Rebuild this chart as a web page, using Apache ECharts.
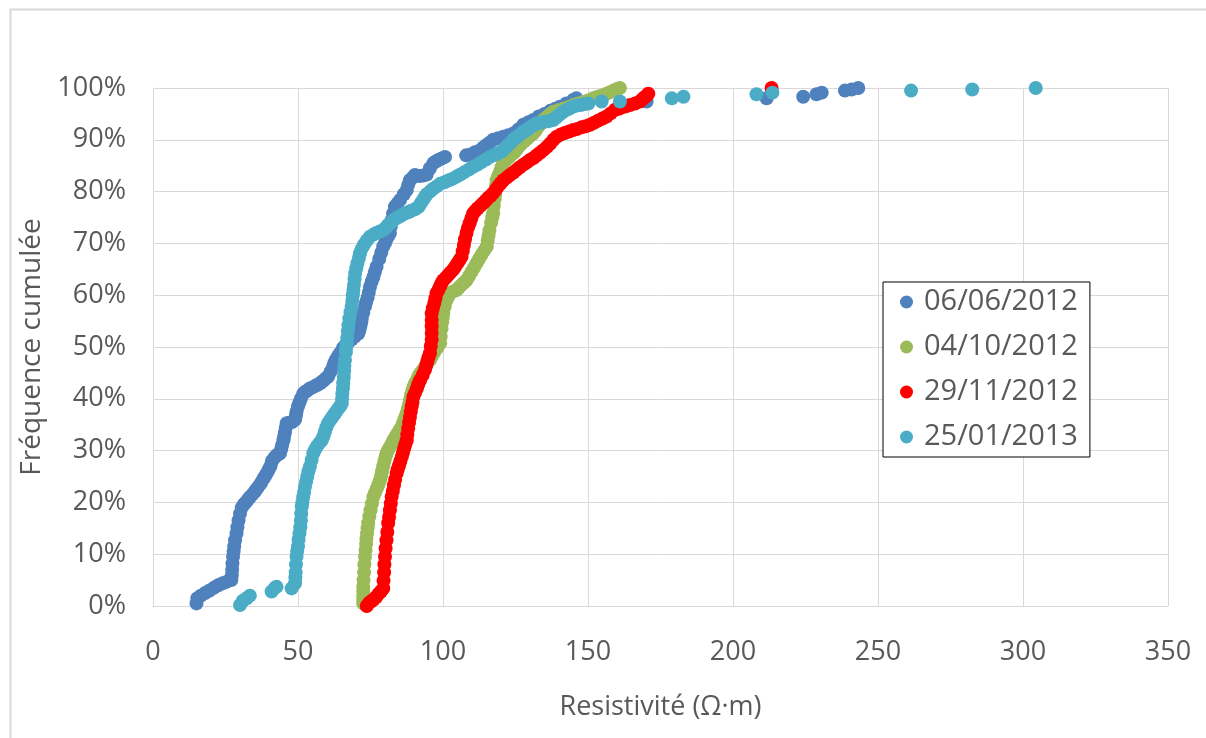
<!DOCTYPE html>
<html>
<head>
<meta charset="utf-8">
<script src="https://cdn.jsdelivr.net/npm/echarts@6/dist/echarts.min.js"></script>
<style>
html,body{margin:0;padding:0;background:#fff;}
#chart{width:1206px;height:738px;}
</style>
</head>
<body>
<div id="chart"></div>
<script>
// Series names (legend)
const seriesNames = ['06/06/2012', '04/10/2012', '29/11/2012', '25/01/2013'];
const seriesColors = ['#4F81BD', '#9BBB59', '#FF0000', '#4BACC6'];

// [resistivity (Ω·m), cumulative frequency (%)]
const s0606_2012 = [
  [15,0.5],[15.3,1.5],[16.5,2],[18,2.5],[19.5,3],[21,3.5],[22.5,4],[24,4.4],[25.5,4.7],[27,5],
  [27.2,6],[27.3,7],[27.4,8.2],[27.6,9.5],[27.8,10.5],[28,11.5],[28.3,12.7],[28.8,14],[29.1,15.2],[29.5,16.5],
  [30,17.8],[30.6,19],[31.3,19.6],[32,20],[32.7,20.5],[33.4,21],[34.2,21.5],[35,22],[35.6,22.5],[36.3,23],
  [37.2,23.7],[38,24.5],[38.6,25],[39.2,25.6],[39.9,26.3],[40.5,27],[41,28],[41.8,28.6],[42.5,29],[43.2,29.3],
  [43.8,29.5],[44.2,30.3],[44.5,31],[45,32],[45.2,32.7],[45.5,33.5],[45.8,34.4],[46.1,35.3],[47,35.4],[48,35.5],
  [49,36],[49.3,36.8],[49.5,37.5],[50,38.5],[50.5,39.3],[51,40],[51.8,41],[52.4,41.3],[53,41.5],[54.1,42],
  [55,42.2],[56,42.5],[56.8,42.7],[57.6,43],[58.3,43.3],[59,43.6],[59.7,44],[60.4,44.3],[61.3,45.3],[62.1,46.2],
  [62.5,46.9],[63,47.5],[63.8,48.2],[64.5,48.8],[65.5,49.8],[66.2,50.2],[66.8,50.7],[67.6,51.1],[68.5,51.5],[69.6,52],
  [70.8,52.6],[71.2,53.3],[71.5,54],[71.8,54.8],[72,55.5],[72.5,56.6],[73.1,57.8],[73.5,58.7],[74,59.5],[74.4,60.5],
  [74.8,61.6],[75.4,62.6],[76,63.5],[76.5,64.5],[77.1,65.5],[78,67],[78.7,68.2],[79.4,69.4],[80,70.1],[80.5,70.8],
  [81.1,71.4],[81.7,72],[82,73.2],[82.3,74.5],[82.8,75.8],[83.4,77.1],[84.3,77.7],[85.2,78.4],[86.5,79.5],[87.5,80.3],
  [88,81.3],[88.6,82.2],[89.5,82.7],[90.3,83.2],[92,83],[93.2,83.1],[94.4,83.3],[95.5,84.5],[96.7,85.5],[97.5,85.8],
  [98.4,86.1],[99.5,86.4],[100.7,86.7],[108,87],[109.3,87.1],[111,87.6],[112.8,88],[113.9,88.5],[115,89],[116.2,89.5],
  [117.3,90],[119,90.3],[120.8,90.6],[122.5,90.9],[124.2,91.2],[126,92],[127.7,92.9],[129.5,93.4],[131.1,93.8],[133,94.5],
  [135,95],[137,95.6],[138.7,96],[140.3,96.4],[142.5,97],[144.9,97.7],[146,98],[170.2,97.4],[211.6,98],[224.2,98.3],
  [228.8,98.8],[230.6,99.1],[238.6,99.5],[240.9,99.7],[243.2,100]
];
const s0410_2012 = [
  [72.5,0.5],[72.5,1.2],[72.5,2],[72.5,2.9],[72.5,3.7],[72.6,5],[72.8,6.5],[72.9,8],[73.1,9.5],[73.3,10.8],
  [73.5,12],[73.6,13],[73.8,14],[74,15],[74.2,16],[74.6,17.3],[75,18.5],[75.5,19.8],[76,21.1],[76.6,21.9],
  [77.2,22.7],[77.8,23.5],[78.3,24.3],[78.7,25.2],[79,26],[79.4,27],[79.8,28],[80.2,28.8],[80.6,29.5],[81.2,30.2],
  [81.8,30.8],[82.4,31.4],[82.9,32],[83.6,32.7],[84.3,33.3],[85,34],[85.8,34.6],[86.2,35.3],[86.7,36],[87.1,36.6],
  [87.5,37.2],[87.9,38.1],[88.3,39],[88.6,39.8],[89,40.7],[89.4,41.5],[89.8,42.3],[90.4,43],[91,43.6],[91.5,44.3],
  [92.1,44.9],[93,45.5],[93.8,46.2],[94.6,46.8],[95.5,47.5],[96.2,48.2],[97,49],[98,49.8],[99,50.7],[99.2,52],
  [99.5,53.5],[99.7,54.8],[99.9,55.7],[100.1,56.5],[100.6,57.8],[101.2,59],[101.8,59.7],[102.4,60.4],[103.5,60.7],[104.7,61],
  [105.5,61.5],[106.4,62],[107.2,62.4],[108.1,62.9],[109,63.7],[109.8,64.5],[110.7,65.3],[111.6,66.2],[112.4,67],[113.3,67.8],
  [114.2,68.6],[115.1,69.4],[115.4,70.5],[115.7,71.5],[116,72.5],[116.6,74],[117,75],[117.3,75.8],[117.5,77.2],[117.8,78.5],
  [118,79.5],[118.2,80.5],[118.3,81.3],[118.5,82.2],[119,83],[119.6,83.8],[120.2,84.7],[120.8,85.5],[121.6,86],[122.5,86.5],
  [123.3,87],[124.2,87.4],[124.9,87.8],[125.6,88.3],[126.3,88.8],[127.1,89.3],[128,89.7],[129,90.2],[130,90.7],[131.1,91.2],
  [132,91.8],[132.8,92.5],[133.7,93.1],[134.6,93.8],[135.5,94.2],[136.3,94.6],[137.1,95],[138,95.4],[139.8,95.7],[141.5,96],
  [143.2,96.3],[144.9,96.7],[146.6,97],[148.3,97.3],[150,97.6],[151.8,98],[153,98.2],[154,98.4],[155.2,98.6],[156.4,98.9],
  [157.6,99.2],[158.8,99.5],[160,99.8],[161,100]
];
const s2911_2012 = [
  [73.7,0],[74.5,0.6],[75.2,0.9],[76,1.2],[76.9,1.7],[77.7,2.3],[78.6,2.8],[79.4,3.4],[79.5,4.9],[79.7,6.5],
  [79.8,8],[80,9.5],[80.2,11.1],[80.5,12.7],[80.8,14.3],[81.1,16],[81.4,17.2],[81.7,18.5],[82,19.8],[82.3,21.1],
  [82.7,22.2],[83.1,23.3],[83.5,24.4],[84,25.6],[84.4,26.4],[84.9,27.2],[85.3,28],[85.8,28.8],[86.2,29.6],[86.6,30.4],
  [87,31.2],[87.5,32],[87.7,33.1],[88,34.3],[88.3,35.4],[88.6,36.5],[88.9,37.5],[89.2,38.5],[89.5,39.4],[89.8,40.4],
  [90.4,41.2],[91,42],[91.5,42.8],[92.1,43.6],[93,44.6],[93.8,45.6],[94.2,46.4],[94.6,47.2],[95,48],[95.5,48.8],
  [95.8,50.2],[96.1,51.4],[96.1,52.7],[96.1,54],[96.1,55.2],[96.1,56.5],[96.5,57.5],[97,58.5],[97.4,59.4],[97.8,60.4],
  [98.4,61],[99,61.7],[99.5,62.3],[100.1,62.9],[101,63.4],[101.8,63.9],[102.6,64.4],[103.5,64.9],[104.2,65.5],[105,66.2],
  [105.7,66.8],[106.4,67.4],[106.8,68.5],[107.2,69.7],[107.6,70.8],[108.1,72],[108.6,73],[109.2,73.9],[109.8,74.9],[110.4,75.8],
  [111.2,76.3],[112,76.8],[113,77.3],[113.9,77.8],[114.8,78.3],[115.6,78.8],[116.5,79.2],[117.3,79.7],[118.1,80.3],[119,81],
  [119.9,81.6],[120.8,82.2],[122,82.7],[123.1,83.2],[124.3,83.7],[125.4,84.2],[126.5,84.7],[127.7,85.2],[128.8,85.6],[130,86.1],
  [131.2,86.5],[132.3,87],[133.5,87.5],[134.6,88],[135.8,88.6],[137,89.3],[138.1,90],[139.2,90.6],[140.6,91],[142,91.3],
  [143.5,91.6],[144.9,91.9],[146.3,92.1],[147.8,92.4],[149.2,92.6],[150.7,92.9],[152.1,93.3],[153.5,93.7],[155,94.1],[156.4,94.5],
  [157.8,95.1],[159.3,95.8],[160.6,96],[162,96.3],[163.3,96.5],[164.5,96.7],[166.2,97],[167.9,97.4],[168.7,97.8],[169.5,98.2],
  [170.2,98.5],[170.8,98.9],[213.3,100]
];
const s2501_2013 = [
  [30,0.2],[31,1],[32.3,1.5],[33.4,2],[40.9,2.8],[42,3.5],[42.6,3.7],[47.8,3.4],[49,4.4],[49.1,5.5],
  [49.2,6.5],[49.3,8],[49.5,9.5],[49.7,10.5],[50,11.5],[50.2,12.8],[50.5,14],[50.8,15.2],[51,16.5],[51.1,17.8],
  [51.3,19.2],[51.5,20],[51.8,21],[52.1,22],[52.4,23],[52.8,24],[53.2,25],[53.6,26],[54.1,26.9],[54.7,28.2],
  [55.3,29.5],[55.9,30.2],[56.5,30.8],[57.3,31.4],[58.2,32],[58.8,32.8],[59.3,33.7],[59.8,34.5],[60.4,35.3],[61,35.8],
  [61.6,36.3],[62.2,36.8],[62.8,37.2],[63.4,37.7],[64,38.2],[64.6,38.6],[65.1,39.1],[65.2,40],[65.3,41],[65.5,42],
  [65.6,43],[65.8,44.2],[65.9,45.3],[66,46.4],[66.2,47.5],[66.5,49],[66.6,49.9],[66.8,50.7],[67,51.8],[67.2,53],
  [67.4,54.2],[67.7,55.5],[68.1,56.7],[68.5,57.8],[68.7,58.9],[68.9,60],[69.1,61],[69.3,62],[69.5,63.1],[69.7,64.2],
  [70.1,65.2],[70.5,66.2],[71,67.2],[71.4,68.1],[72,69],[72.8,69.8],[73.8,70.6],[74.8,71.3],[76,71.7],[77,72],
  [78.2,72.3],[79.4,72.6],[80.2,73],[81,73.5],[82,74],[82.9,74.5],[84,74.9],[85,75.2],[86,75.5],[86.9,75.8],
  [88,76],[89,76.3],[90.3,76.6],[91.5,77],[92.3,77.7],[93,78.3],[93.7,78.9],[94.4,79.5],[95.5,80],[96.5,80.5],
  [97.8,81],[99,81.5],[100.5,81.8],[102,82.2],[103.4,82.5],[104.7,82.9],[106,83.3],[107.5,83.8],[109,84.3],[110.4,84.8],
  [111.9,85.2],[113.3,85.7],[114.8,86.2],[116.2,86.7],[117.4,87],[118.5,87.3],[119.7,87.6],[120.8,88],[121.6,88.5],[122.5,89],
  [123.4,89.5],[124.2,90],[125.4,90.5],[126.5,91],[127.7,91.5],[128.9,91.9],[129.7,92.3],[130.5,92.6],[131.4,92.9],[132.3,93.2],
  [133.7,93.3],[135,93.5],[136.5,93.6],[138,93.8],[139,94.3],[140,94.8],[141,95.2],[142,95.6],[143.5,96],[144.9,96.4],
  [146.2,96.6],[147.5,96.7],[148.8,96.9],[150.1,97],[154.7,97.4],[161,97.4],[178.9,98],[182.9,98.3],[208.1,98.8],[213.6,99.1],
  [261.4,99.5],[282.5,99.7],[304.4,100]
];
const seriesData = [s0606_2012, s0410_2012, s2911_2012, s2501_2013];

const xTicks = {min: 0, max: 350, interval: 50};
const yTicks = {min: 0, max: 100, interval: 10};

const font = '"Open Sans", "Noto Sans", sans-serif';
const textColor = '#595959';

const chart = echarts.init(document.getElementById('chart'), null, {renderer: 'canvas'});
chart.setOption({
  backgroundColor: '#fff',
  animation: false,
  textStyle: {fontFamily: font},
  graphic: [{
    type: 'rect', left: 8, top: 7,
    shape: {x: 0, y: 0, width: 1300, height: 800},
    style: {fill: 'none', stroke: '#D9D9D9', lineWidth: 2},
    silent: true
  }],
  grid: {left: 153, right: 38, top: 88, bottom: 132},
  legend: {
    orient: 'vertical',
    left: 883, top: 282,
    padding: [3, 12, 3, 17],
    itemGap: 11,
    itemWidth: 13, itemHeight: 13,
    icon: 'circle',
    borderColor: '#000', borderWidth: 1,
    backgroundColor: '#fff',
    textStyle: {fontSize: 29, color: textColor, fontFamily: font, lineHeight: 34, padding: [0, 0, 0, 6]},
    data: seriesNames
  },
  xAxis: {
    type: 'value',
    min: xTicks.min, max: xTicks.max, interval: xTicks.interval,
    name: 'Resistivité (Ω·m)',
    nameLocation: 'middle',
    nameGap: 88,
    nameTextStyle: {fontSize: 27, color: textColor, fontFamily: font},
    axisLine: {show: true, lineStyle: {color: '#D9D9D9'}},
    axisTick: {show: false},
    axisLabel: {fontSize: 27, color: textColor, margin: 33, fontFamily: font},
    splitLine: {show: true, lineStyle: {color: '#D9D9D9', width: 1}}
  },
  yAxis: {
    type: 'value',
    min: yTicks.min, max: yTicks.max, interval: yTicks.interval,
    name: 'Fréquence cumulée',
    nameLocation: 'middle',
    nameGap: 104,
    nameTextStyle: {fontSize: 28, color: textColor, fontFamily: font},
    axisLine: {show: true, lineStyle: {color: '#D9D9D9'}},
    axisTick: {show: false},
    axisLabel: {fontSize: 27, color: textColor, margin: 27, formatter: '{value}%', fontFamily: font},
    splitLine: {show: true, lineStyle: {color: '#D9D9D9', width: 1}}
  },
  series: seriesNames.map((n, i) => ({
    name: n,
    type: 'scatter',
    data: seriesData[i],
    symbol: 'circle',
    symbolSize: 14,
    itemStyle: {color: seriesColors[i], opacity: 1},
    z: 2 + i
  }))
});
</script>
</body>
</html>
